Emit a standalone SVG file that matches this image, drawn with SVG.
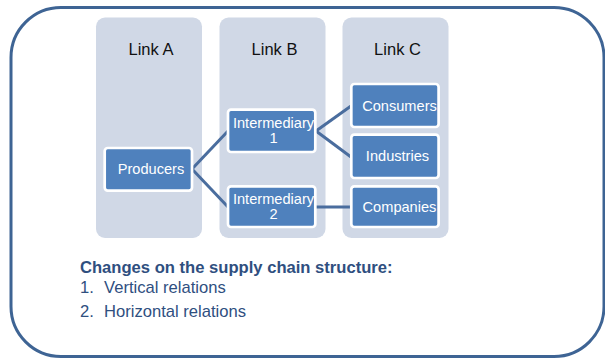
<svg xmlns="http://www.w3.org/2000/svg" width="605" height="359" viewBox="0 0 605 359">
<style>
.col{fill:#d0d8e6}
.node rect{fill:#4f81bd;stroke:#ffffff;stroke-width:2.7}
.node text{fill:#ffffff;font-family:"Liberation Sans",Arial,sans-serif;font-size:14.6px;text-anchor:middle}
.hdr{fill:#111;font-family:"Liberation Sans",Arial,sans-serif;font-size:16.5px;text-anchor:middle}
.conn{stroke:#4a6d9e;stroke-width:3;fill:none}
.note{fill:#2f4f7f;font-family:"Liberation Sans",Arial,sans-serif;font-size:16.6px}
</style>
<rect x="11" y="7.5" width="593" height="349" rx="50" ry="50" fill="#ffffff" stroke="#3e6494" stroke-width="3"/>
<g id="columns">
<rect class="col" x="96" y="17.5" width="106" height="220.5" rx="9"/>
<rect class="col" x="219.5" y="17.5" width="106" height="220.5" rx="9"/>
<rect class="col" x="342.5" y="17.5" width="106" height="220.5" rx="9"/>
<text class="hdr" x="151" y="55">Link A</text>
<text class="hdr" x="274.5" y="55">Link B</text>
<text class="hdr" x="397.5" y="55">Link C</text>
</g>
<g id="connectors">
<path class="conn" d="M192 169 L228 131"/>
<path class="conn" d="M192 169 L228 207"/>
<path class="conn" d="M316 131 L351 106"/>
<path class="conn" d="M316 131 L351 157"/>
<path class="conn" d="M316 207 L351 207"/>
</g>
<g id="producers" class="node"><rect x="104.7" y="148" width="87.3" height="42.6" rx="3"/><text x="151" y="174">Producers</text></g>
<g id="intermediary1" class="node"><rect x="228" y="109.7" width="87.3" height="42.3" rx="3"/><text x="273.5" y="128">Intermediary</text><text x="273.5" y="143">1</text></g>
<g id="intermediary2" class="node"><rect x="228" y="186.3" width="87.3" height="40.7" rx="3"/><text x="273.5" y="204">Intermediary</text><text x="273.5" y="219">2</text></g>
<g id="consumers" class="node"><rect x="351.3" y="84" width="87.3" height="43" rx="3"/><text x="399.5" y="111">Consumers</text></g>
<g id="industries" class="node"><rect x="351.3" y="134.7" width="87.3" height="43.3" rx="3"/><text x="397.5" y="161">Industries</text></g>
<g id="companies" class="node"><rect x="351.3" y="186.3" width="87.3" height="40.7" rx="3"/><text x="399.5" y="212">Companies</text></g>
<g id="notes">
<text class="note" x="80" y="273" font-weight="bold">Changes on the supply chain structure:</text>
<text class="note" y="293"><tspan x="80">1.</tspan><tspan x="104">Vertical relations</tspan></text>
<text class="note" y="317"><tspan x="80">2.</tspan><tspan x="104">Horizontal relations</tspan></text>
</g>
</svg>
